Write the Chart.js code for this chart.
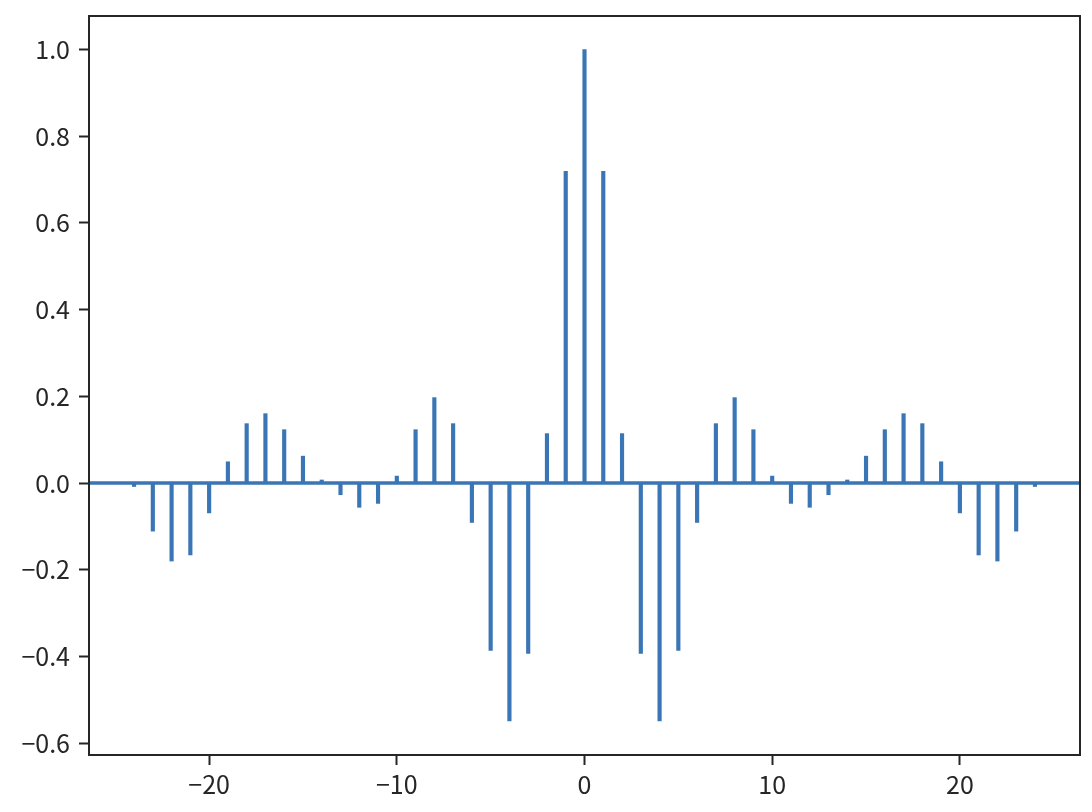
<!DOCTYPE html>
<html>
<head>
<meta charset="utf-8">
<script src="https://cdn.jsdelivr.net/npm/chart.js@4/dist/chart.umd.min.js"></script>
<style>
  html, body { margin: 0; padding: 0; background: #fff; }
  #wrap { width: 1092px; height: 812px; }
</style>
</head>
<body>
<div id="wrap"><canvas id="c" width="1092" height="812"></canvas></div>
<script>
// Lags and autocorrelation values
const lags = [-24,-23,-22,-21,-20,-19,-18,-17,-16,-15,-14,-13,-12,-11,-10,-9,-8,-7,-6,-5,-4,-3,-2,-1,0,
              1,2,3,4,5,6,7,8,9,10,11,12,13,14,15,16,17,18,19,20,21,22,23,24];
const corr = [-0.008,-0.111,-0.180,-0.166,-0.069,0.049,0.137,0.160,0.123,0.062,0.007,-0.027,-0.056,-0.047,0.016,0.123,0.197,0.137,-0.091,-0.386,-0.549,-0.393,0.114,0.719,1.0,
              0.719,0.114,-0.393,-0.549,-0.386,-0.091,0.137,0.197,0.123,0.016,-0.047,-0.056,-0.027,0.007,0.062,0.123,0.160,0.137,0.049,-0.069,-0.166,-0.180,-0.111,-0.008];
const xTicks = [-20, -10, 0, 10, 20];
const yTicks = [-0.6, -0.4, -0.2, 0.0, 0.2, 0.4, 0.6, 0.8, 1.0];
const xRange = [-26.4, 26.4];
const yRange = [-0.6275, 1.0775];

const lineColor = '#3a75b5';
const axisColor = '#262626';

const fmtMinus = (s) => s.replace('-', '\u2212');

const framePlugin = {
  id: 'frame',
  afterDatasetsDraw(chart) {
    const { ctx, chartArea: a, scales } = chart;
    const y0 = scales.y.getPixelForValue(0);
    ctx.save();
    ctx.strokeStyle = lineColor;
    ctx.lineWidth = 3.5;
    ctx.beginPath();
    ctx.moveTo(a.left, y0);
    ctx.lineTo(a.right, y0);
    ctx.stroke();
    ctx.restore();
  },
  afterDraw(chart) {
    const { ctx, chartArea: a } = chart;
    ctx.save();
    ctx.strokeStyle = axisColor;
    ctx.lineWidth = 2;
    ctx.strokeRect(a.left, a.top, a.right - a.left, a.bottom - a.top);
    ctx.restore();
  }
};

const tickFont = { family: '"Noto Sans CJK JP", "Noto Sans", sans-serif', size: 25 };

new Chart(document.getElementById('c'), {
  type: 'bar',
  data: {
    datasets: [{
      data: lags.map((l, i) => ({ x: l, y: corr[i] })),
      backgroundColor: lineColor,
      borderWidth: 0,
      barThickness: 3.5,
      grouped: false
    }]
  },
  options: {
    responsive: false,
    animation: false,
    devicePixelRatio: 1,
    layout: { padding: { top: 16, right: 12, left: 0, bottom: 0 } },
    plugins: { legend: { display: false }, tooltip: { enabled: false } },
    scales: {
      x: {
        type: 'linear',
        offset: false,
        min: xRange[0],
        max: xRange[1],
        afterBuildTicks: (s) => { s.ticks = xTicks.map(v => ({ value: v })); },
        afterFit: (s) => { s.height = 57; s.paddingLeft = 0; s.paddingRight = 0; },
        grid: { display: true, offset: false, drawOnChartArea: false, drawTicks: true, tickLength: 10, tickWidth: 2, tickColor: axisColor },
        border: { display: true, color: axisColor, width: 2 },
        ticks: {
          color: axisColor,
          padding: 4,
          maxRotation: 0,
          autoSkip: false,
          font: tickFont,
          callback: (v) => fmtMinus(String(Math.round(v)))
        }
      },
      y: {
        type: 'linear',
        min: yRange[0],
        max: yRange[1],
        afterBuildTicks: (s) => { s.ticks = yTicks.map(v => ({ value: v })); },
        afterFit: (s) => { s.width = 89; s.paddingTop = 0; s.paddingBottom = 0; },
        grid: { display: true, drawOnChartArea: false, drawTicks: true, tickLength: 10, tickWidth: 2, tickColor: axisColor },
        border: { display: true, color: axisColor, width: 2 },
        ticks: {
          color: axisColor,
          padding: 9,
          autoSkip: false,
          font: tickFont,
          callback: (v) => fmtMinus(Number(v).toFixed(1))
        }
      }
    }
  },
  plugins: [framePlugin]
});
</script>
</body>
</html>
